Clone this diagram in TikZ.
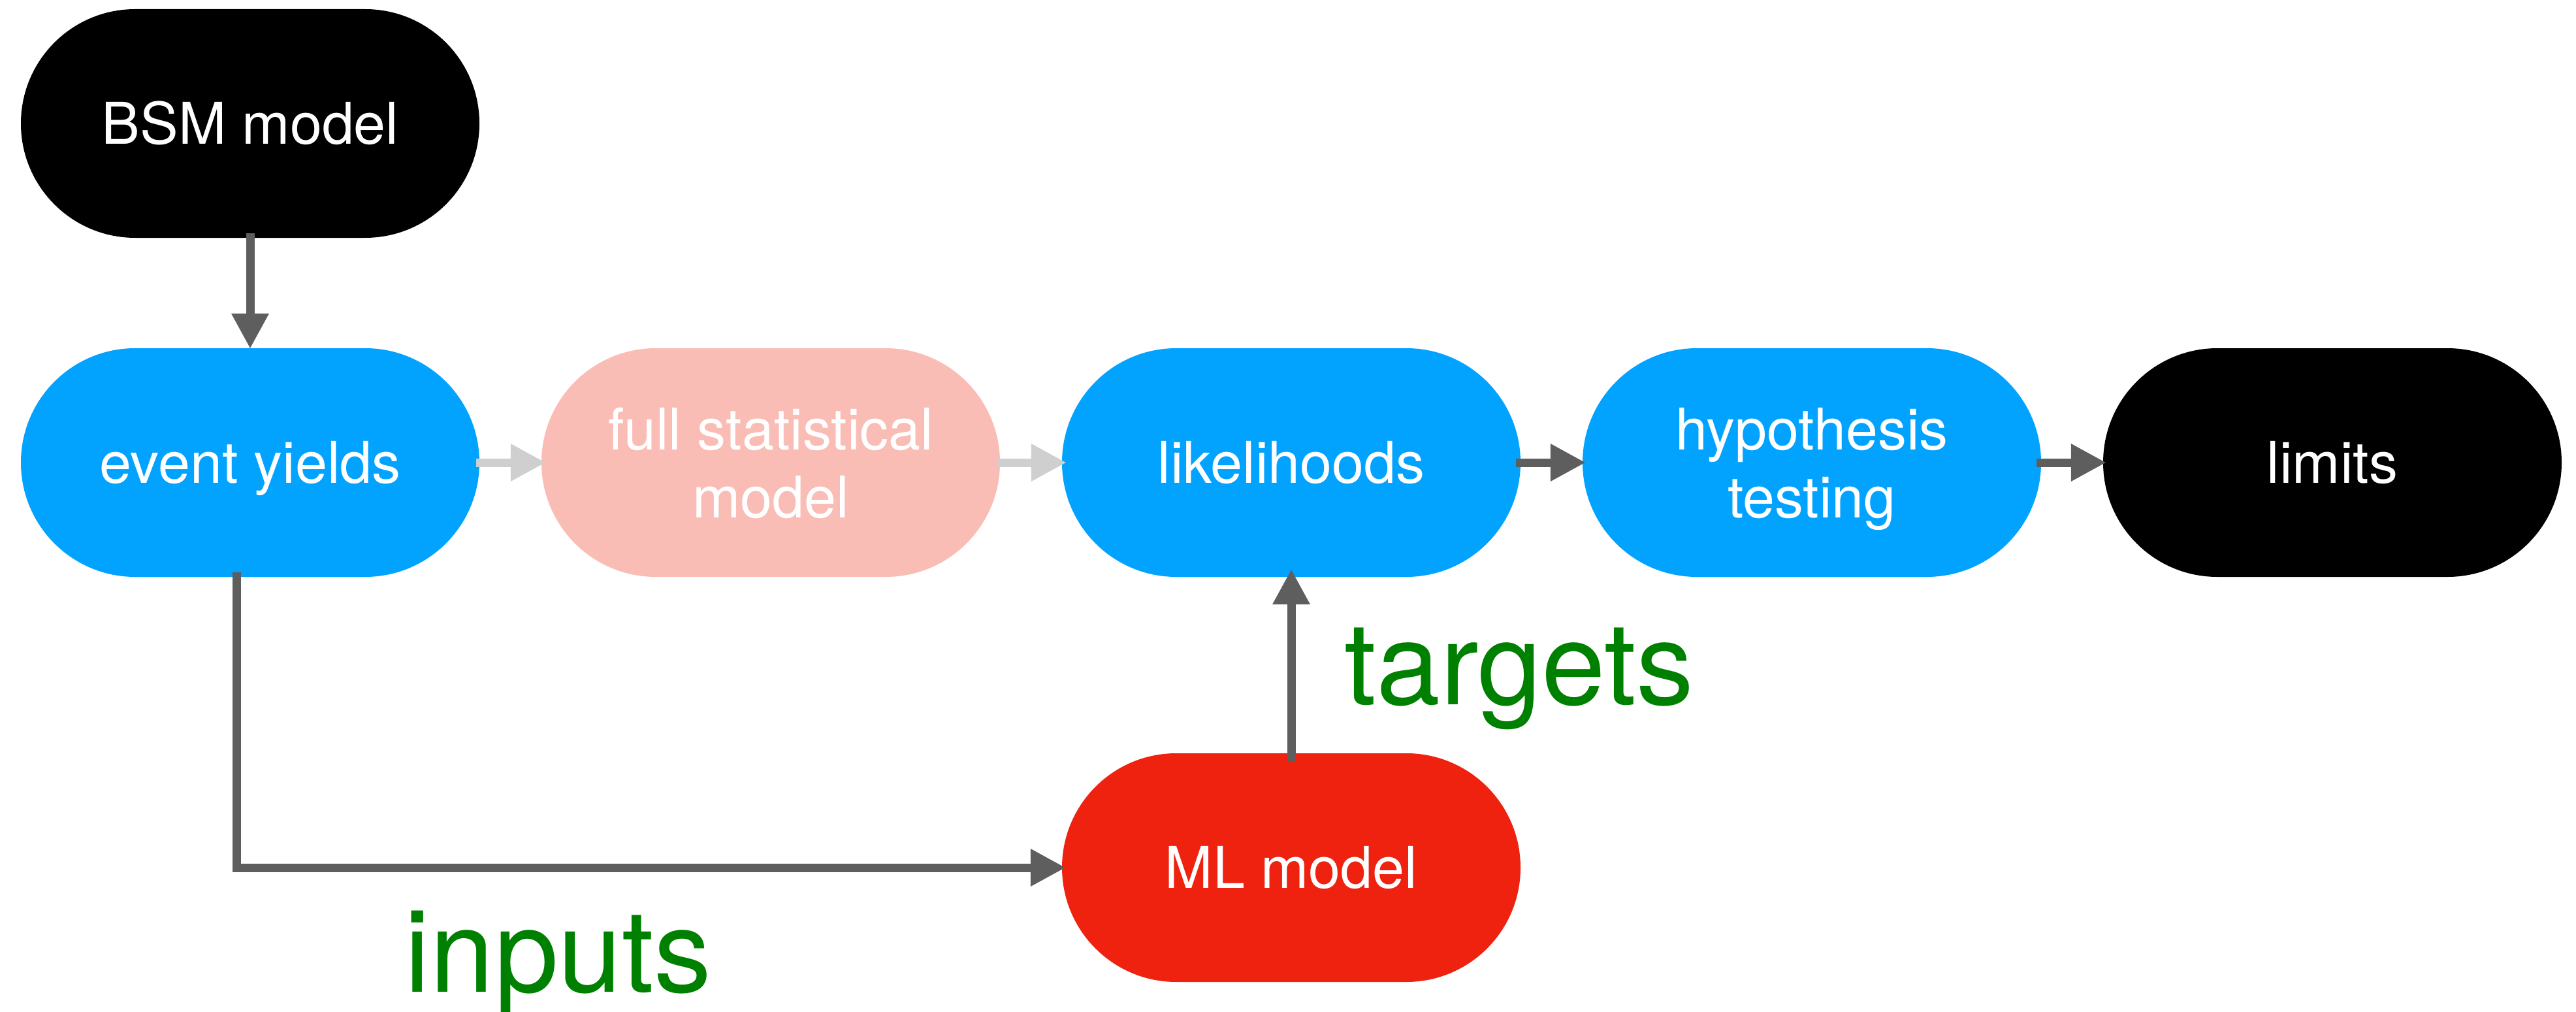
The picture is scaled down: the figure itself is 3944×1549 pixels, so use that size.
\documentclass[tikz,border=0pt]{standalone}
\usepackage{fontspec}
\setmainfont{TeX Gyre Heros}
\usetikzlibrary{arrows.meta}
\definecolor{nodeblue}{RGB}{2,163,255}
\definecolor{nodepink}{RGB}{249,189,182}
\definecolor{nodered}{RGB}{238,34,15}
\definecolor{arrdark}{RGB}{94,94,94}
\definecolor{arrlight}{RGB}{207,207,207}
\definecolor{labgreen}{RGB}{0,128,0}
\begin{document}
\begin{tikzpicture}[x=1pt,y=-1pt,
  stad/.style={rectangle, rounded corners=174.9pt, minimum width=702pt, minimum height=350pt,
    inner sep=0pt, draw=none, text=white, font=\fontsize{88}{104}\selectfont, align=center},
  oneline/.style={text height=63pt, text depth=0pt},
  twoline/.style={text depth=0pt},
  darrow/.style={draw=arrdark, line width=13pt, -{Triangle[length=54pt,width=54pt]}},
  larrow/.style={draw=arrlight, line width=13pt, -{Triangle[length=54pt,width=54pt]}},
  lab/.style={text=labgreen, font=\fontsize{176}{200}\selectfont, anchor=base west, inner sep=0pt}
]
\useasboundingbox (0,0) rectangle (3944,1549);

\node[stad, oneline, fill=black] (bsm) at (383,189) {BSM model};
\node[stad, oneline, fill=nodeblue] (ey) at (383,708) {event yields};
\node[stad, twoline, fill=nodepink] (fsm) at (1180,708) {full statistical\\model};
\node[stad, oneline, fill=nodeblue] (lik) at (1977,708) {likelihoods};
\node[stad, twoline, fill=nodeblue] (hyp) at (2774,708) {hypothesis\\testing};
\node[stad, oneline, fill=black] (lim) at (3571,708) {limits};
\node[stad, oneline, fill=nodered] (ml) at (1977,1328) {ML model};

\node[lab] (tg) at (2058,1078) {targets};
\node[lab] (inp) at (619,1518) {inputs};

\draw[darrow, shorten <=-7pt, shorten >=-1pt] (bsm.south) -- (ey.north);
\draw[larrow, shorten <=-5pt, shorten >=-7pt] (ey.east) -- (fsm.west);
\draw[larrow, shorten <=-5pt, shorten >=-7pt] (fsm.west -| fsm.east) -- (lik.west);
\draw[darrow, shorten <=-7pt, shorten >=-5pt] (lik.east) -- (hyp.west);
\draw[darrow, shorten <=-7pt, shorten >=-5pt] (hyp.east) -- (lim.west);
\coordinate (inpstart) at ([xshift=-20.5pt, yshift=7pt]ey.south);
\draw[darrow, shorten >=-6pt] (inpstart) |- (ml.west);
\draw[darrow, shorten <=-12pt, shorten >=-12pt] (ml.north) -- (lik.south);
\end{tikzpicture}
\end{document}
